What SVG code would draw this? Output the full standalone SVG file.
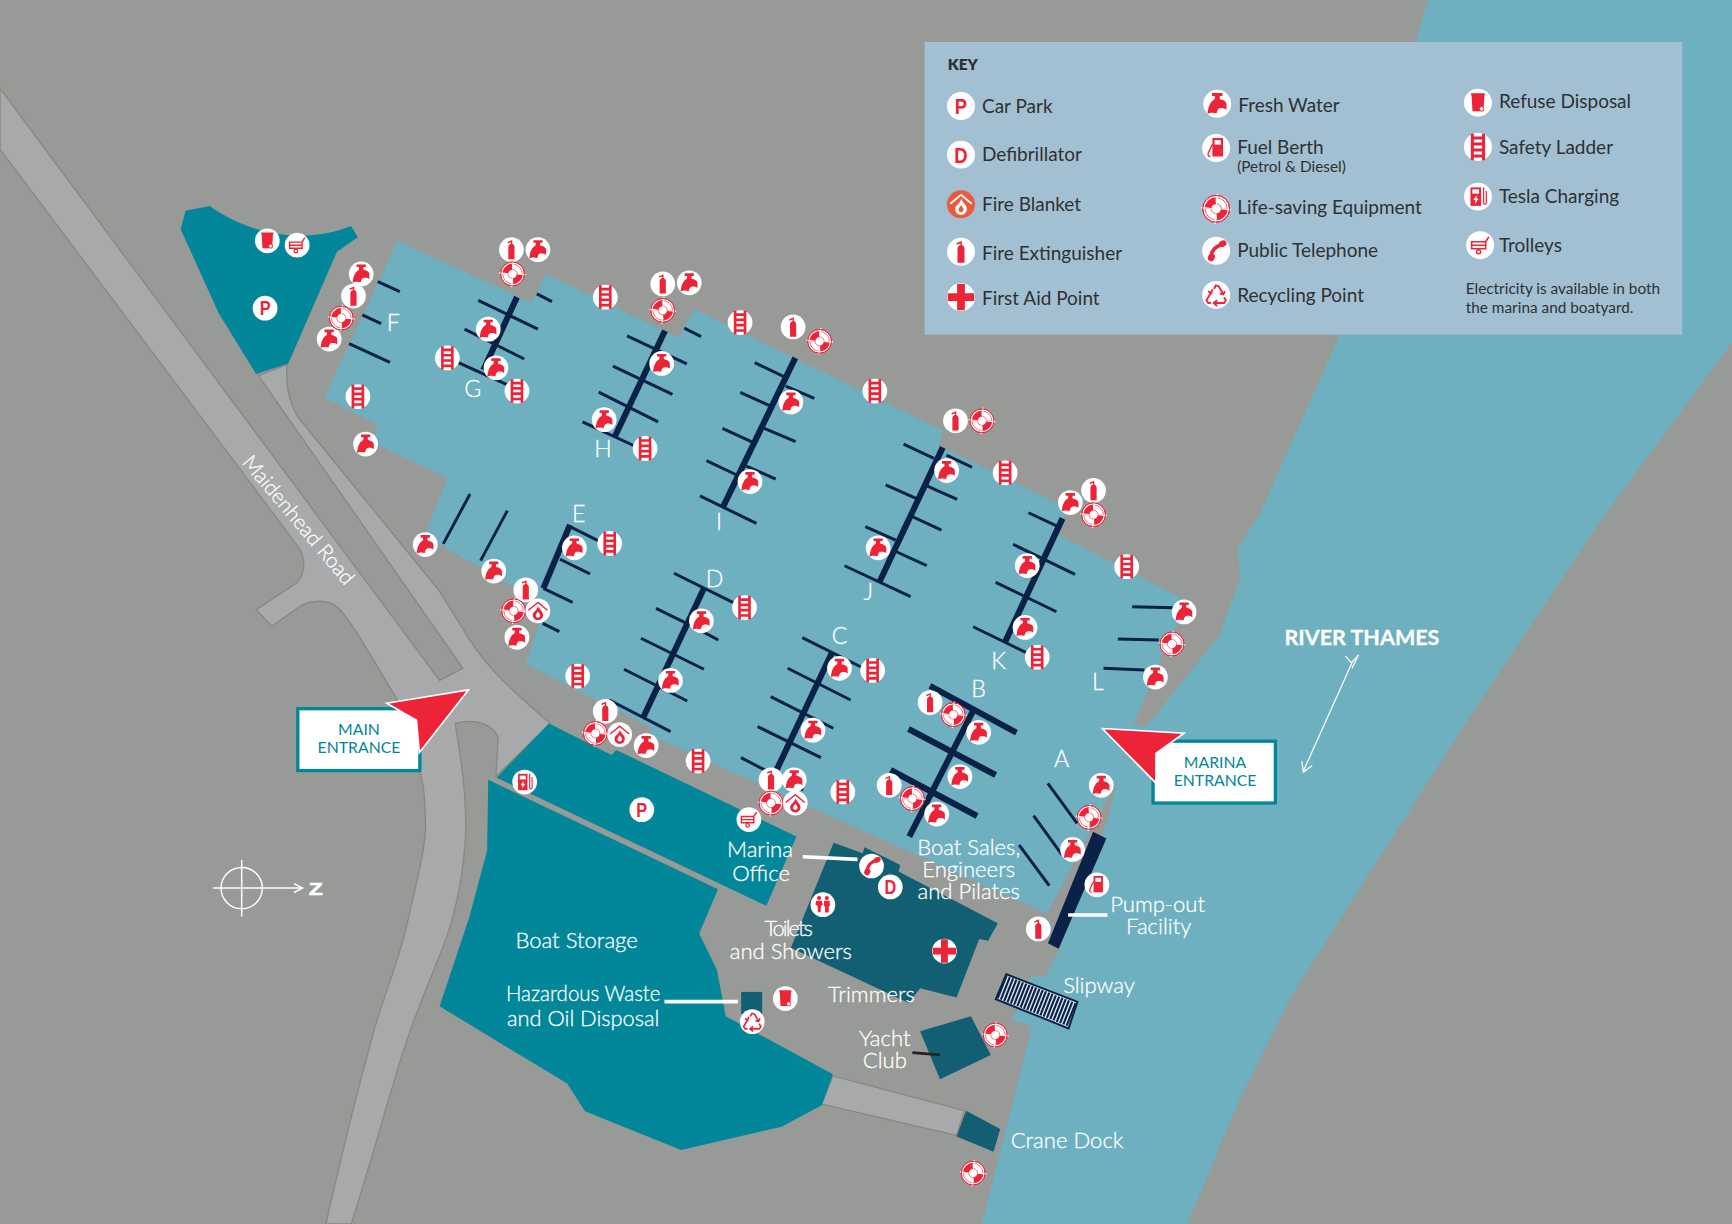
<svg xmlns="http://www.w3.org/2000/svg" width="1732" height="1224" viewBox="0 0 1732 1224">
<style>
.road{fill:#a7a9ab;stroke:#878980;stroke-width:1.2}
.navy{stroke:#0a2148;fill:none}
.p1{stroke-width:2.7}.p2{stroke-width:5.5}
.w{fill:#fff;stroke:#fff;stroke-width:.25;font-family:Lato,"Liberation Sans",sans-serif;font-weight:300;font-size:20px;text-anchor:middle}
.l{font-size:21px}
.k{fill:#2e3134;font-family:Lato,"Liberation Sans",sans-serif;font-size:17.2px;dominant-baseline:central}
.s{font-size:13.9px}
.e{fill:#02869a;font-family:Lato,"Liberation Sans",sans-serif;font-size:14.3px;text-anchor:middle}
.g{fill:#ed2437;font-family:"Liberation Sans",sans-serif;font-weight:bold;font-size:18px;text-anchor:middle}
.r{fill:#ed2437}
.ro{fill:none;stroke:#ed2437}
.b{fill:#fff}
</style>
<defs>
<circle id="bg" r="11.2" fill="#fff"/>
<g id="tap"><use href="#bg"/><path class="r" d="M-4.200-8.600H4.200V-6.200H2V-3.700C5-3.300 7.200-2 7.400 0V4.800C5.800 3.500 3.500 3.200 2 3.600 .5 4 0 5.200-.5 7.600-3 6.800-6 7-7.800 8-7.300 3.500-6.500-1.200-2-3.900V-6.200H-4.200Z"/></g>
<g id="ext"><use href="#bg"/><path class="r" d="M-2.800 8.800V-2.200c0-1.600 1-2.800 2.300-3.200V-6.700l-3 1V-7l4.200-1.700v3.300c1.300.4 2.100 1.600 2.100 3.200V8.800z"/></g>
<g id="ring"><circle r="10.800" fill="#fff" stroke="#ed2437" stroke-width=".8"/><circle r="6.500" class="ro" stroke-width="5.200" stroke-dasharray="9.600 10.820"/><circle r="8.900" class="ro" stroke-width=".6"/><circle r="4.100" class="ro" stroke-width=".6"/><circle r="6.500" fill="none" stroke="#fff" stroke-width="11" stroke-dasharray=".8 9.410"/><circle r="10.800" fill="none" stroke="#ed2437" stroke-width=".8"/></g>
<g id="ladder"><use href="#bg"/><path class="ro" stroke-width="2.400" d="M-4.500-10.600V10.600M4.500-10.600V10.600M-4.500-7.200H4.500M-4.500-2.400H4.500M-4.500 2.400H4.500M-4.500 7.200H4.500"/></g>
<g id="blanket"><use href="#bg"/><path class="ro" stroke-width="1.300" d="M-8.600-.5 0-7.600 8.600-.5"/><path class="r" d="M.2-4.400c.8 3 4.500 4.900 4.500 8.200 0 2.700-2.100 4.700-4.700 4.700S-4.700 6.500-4.700 3.800C-4.700 1-1 0 .2-4.400z"/><path class="b" d="M0 .5c.4 1.200 2 2 2 3.800 0 1.200-.9 2-2 2s-2-.8-2-2c0-1.700 1.600-2.400 2-3.800z"/></g>
<g id="trolley"><use href="#bg"/><path class="ro" stroke-width="1.300" d="M-6.800-2.800H4.400V2.800H-6.800zM-6.800 0H4.400M4.400-2.800 7-6.800M-1.200 2.800V4"/><circle cx="-1.200" cy="5.200" r="1.600" class="ro" stroke-width="1.200"/></g>
<g id="refuse"><use href="#bg"/><path class="r" d="M-5.500-7.600H5.500V-5.900H5.100L4.500 6.800H-4.400L-5.100-5.900H-5.500z"/><circle cx="3" cy="4.800" r="1.800" fill="#fff" stroke="#ed2437" stroke-width=".7"/></g>
<g id="fuel"><use href="#bg"/><path class="r" d="M-3-8H5.500V6.800H-3z"/><rect class="b" x="-1.300" y="-6.300" width="5.100" height="3.600"/><path class="ro" stroke-width="1.100" d="M-3-3-6.300 4c-.6 1.800.2 2.800 1.700 2.800"/></g>
<g id="tesla"><use href="#bg"/><path class="r" d="M-6-7.400H2.500V7.400H-6z"/><rect class="b" x="-4.500" y="-5.800" width="5.400" height="3.400"/><path class="b" d="M-1-1.200-3.700 2.800h1.800L-2.500 6 .6 1.600H-1.200z"/><path class="ro" stroke-width="1" d="M4.500-7.500V5c0 1.600 2.200 1.600 2.200 0V-4.500"/></g>
<g id="phone"><use href="#bg"/><path class="ro" stroke-width="3" d="M4.500-4.800C0-4-3.500-.5-4 4" stroke-linecap="round"/><ellipse class="r" cx="5.200" cy="-5.700" rx="3.200" ry="2.500" transform="rotate(-25 5.200 -5.700)"/><ellipse class="r" cx="-3.800" cy="5.300" rx="2.700" ry="3.200" transform="rotate(25 -3.800 5.300)"/></g>
<g id="recycle"><use href="#bg"/><path class="ro" stroke-width="1.500" d="M-1.800-4.800-.2-7.600 2-7l3.800 6.500M7-3 5.800-.4 3-1M6.300 1.800 7.800 4.500 6.400 6.500H-1M.8 4.200-2 6.500.8 8.800M-4.200 6.500H-6.400L-7.800 4.500-4.200-1.800M-6.500-3-4-1.500-3-4.500"/></g>
<g id="cross"><use href="#bg"/><path class="r" d="M-3.100-10.600h6.200v7.500h7.500v6.200H3.100v7.500h-6.200V3.100h-7.500v-6.200h7.500z"/></g>
<g id="toilets"><use href="#bg"/><circle class="r" cx="-3.500" cy="-6" r="1.900"/><circle class="r" cx="3.500" cy="-6" r="1.900"/><path class="r" d="M-6.200-3.600H-1l1 4-1.700.4-.4 6h-2.400l-.4-6-1.700-.4zM1-3.600h5.200v5H5.300V7H1.900V1.400H1z"/></g>
<g id="p"><use href="#bg"/><text class="g" transform="scale(.82 1)" y="6.500">P</text></g>
<g id="d"><use href="#bg"/><text class="g" transform="scale(.82 1)" y="6.500">D</text></g>
</defs>
<rect width="1732" height="1224" fill="#979a96"/>
<g transform="scale(1.10459)">
<g id="roads">
<path class="road" d="M0 80 398 616 419 605 234 340 260 330C258 350 262 365 270 378L397 534C410 555 418 567 425 579 445 610 470 630 498 655L449 703 451 667C445 655 430 650 412 655 420 700 423 740 421 765 418 800 410 835 400 860 390 885 375 920 364 955 350 1000 335 1055 318 1108H295C306 1060 320 1000 334 950 345 905 362 870 370 830 378 795 387 760 385 742 385 720 383 710 380 697L360 634 327 579C315 560 305 545 295 545 285 543 278 545 270 550L246 567 232 552 268 528C277 520 277 505 270 495L0 135z"/>
<path class="road" d="M754 974 873 1005.500 866 1028 744 999.500z"/>
</g>
<path id="water" fill="#6eb0bf" d="M1293 0 1284.700 27 1213 303 1140.700 464.400 1120.700 496 1122.700 523 1104 575 1057 633.700 1036.600 659 1026 655 1036 634 1051 594.500 1065 566 1070 541.600 958 484 966 460 850 403 854 390 628.500 280 614 305.600 494 248 481 274 360 218 293.700 359.600 341 384 339 401 405 433 384 484.700 464.700 531 495 545 476 601 590 659 588.500 665.500 948 827 1010.700 707.600 1002.600 742.500 959 860 946 884 934 882.700 916 923.400 934 929 889 1108H1075L1120 1000 1170 900 1240 790 1330 650 1450 470 1568 310V0z"/>
<g id="teal-areas" fill="#02869a">
<path d="M168 190.700 190 186.500C225 212 275 222 317.800 204.600L324 214.700 305 228 261 329 232 338.700 198 283.600 163.600 207.500z"/>
<path d="M449.600 704 497 655 553.700 683.500 558 679 721 757.400 693.800 820z"/>
<path d="M442 706 650 805 633 845 649 878 657 920 754 972.500 744 1000.500 707.500 1020 616.600 1041 529.600 1006 513.500 981 398 911 425 830 441 770z"/>
</g>
<g id="buildings" fill="#125f74">
<path d="M754.700 763 781 772.400 782.700 767 815 783 813.500 789 903.400 835.800 894.600 851.600 886.500 850 866 903 833 894.700 822.700 908 716 858z"/>
<rect x="671" y="898" width="19" height="20"/>
<path d="M833 933.500 879 920 897 955 851 977z"/>
<path d="M874.600 1005.500 905.500 1022 899.500 1042.600 866 1029z"/>
</g>
<g id="slipway">
<path d="M911 882 975.400 907 967.400 931 901.500 904.600z" fill="#d7e3e8" stroke="#0a2148" stroke-width="1.800"/>
<path d="M906.300 893.300 971.400 919" fill="none" stroke="#0a2148" stroke-width="22" stroke-dasharray="1.900 1.300"/>
</g>
<g id="piers">
<path class="navy p1" d="M342 255 362 264M328 285 345 293M316 311 353 328"/>
<path class="navy p2" d="M468 269 437.600 335"/>
<path class="navy p1" d="M433 272 487 298M420.600 298 474.600 325M413 327.400 460 348.600M486 266 499.700 273"/>
<path class="navy p2" d="M602 299.400 556.800 395"/>
<path class="navy p1" d="M567.700 304 621.800 329.500M554.900 331.400 608.800 357M542 355 595.800 382M527.400 382 575 404M619.500 297 634.700 304.800"/>
<path class="navy p2" d="M720 324 654.700 458.700"/>
<path class="navy p1" d="M683.200 328.300 709.700 341M670.200 355.200 696.700 367.300M654 387.800 682.200 400.800M639.500 417 667 430M711.300 349.500 737.200 360.600M691.900 387.800 720.300 399.900M675.700 421.900 702.200 433.700M633.700 449 684.800 473.800"/>
<path class="navy p2" d="M853.500 405 796.300 526.600"/>
<path class="navy p1" d="M818 402 845.500 415M801.800 439 829.300 451.200M783.400 476.800 810.900 489M856.800 412 880 423M839.600 440 866.500 452M826 467.800 852.300 479.900M811.500 499.500 839 512M764.600 512.200 824.400 540.200"/>
<path class="navy p2" d="M961.900 469.300 910 581"/>
<path class="navy p1" d="M931.100 464.200 958 476.800M917.200 492.800 973.200 520M901.400 527.200 956.400 553.800M881 567.400 929.500 591M1025 549.300 1062 550.200M1012 578.500 1049 579.500M999 605 1036 606.600"/>
<path class="navy p2" d="M516 475.200 491.900 532.600"/>
<path class="navy p1" d="M516 476.700 543.200 490.300M507 506.300 534.100 519.600M491.900 532.600 518.400 545.300M491.300 564.300 506.400 571.800M425.500 447.200 401.300 492.400M459.300 462.300 435.100 507.500"/>
<path class="navy p2" d="M637.300 532.600 582.400 649.400"/>
<path class="navy p1" d="M610.200 519 663.900 545.600M593.900 550.700 621.600 564.300M627.700 567.300 650.300 579.400M580.300 577.800 637.300 605.900M564.900 605.900 622.200 634.600M551.600 633.700 607.100 662.300"/>
<path class="navy p2" d="M752.900 591.400 703.100 697"/>
<path class="navy p1" d="M726.300 577.200 780 604.100M713.100 605 770.100 633.700M697.700 630.700 754.400 659.300M685.900 657.800 743.200 685.900M670.800 685.900 727.200 715.100"/>
<path class="navy p2" d="M881.300 642.800 823.200 757.500M841.900 621 920.200 663.300M822.500 660 901.400 701.600M806.300 697.100 884.600 738.700"/>
<path class="navy p1" d="M948.600 709.200 975.100 745.400M935.700 738.400 961.500 774M922.700 765 949.900 801.800"/>
<path d="M989.600 753 1001.600 759 958.400 859 948.700 854z" fill="#0a2148"/>
</g>
<g id="connectors">
<path fill="none" stroke="#fff" stroke-width="3.200" d="M967 828.400H1002.600M726.800 775.600 776.300 778M601.600 906.800H668"/>
<path fill="none" stroke="#222" stroke-width="2.500" d="M826 953 851 955"/>
</g>
<g id="icons">
<use href="#tap" x="327" y="248"/><use href="#tap" x="298" y="307"/><use href="#tap" x="331" y="402"/><use href="#tap" x="442" y="298"/><use href="#tap" x="449" y="333"/><use href="#tap" x="487" y="226"/><use href="#tap" x="624" y="256"/><use href="#tap" x="599" y="329"/><use href="#tap" x="547" y="380"/><use href="#tap" x="716" y="364"/><use href="#tap" x="679" y="436"/><use href="#tap" x="857" y="426"/><use href="#tap" x="795" y="496"/><use href="#tap" x="969" y="455"/><use href="#tap" x="930" y="512"/><use href="#tap" x="928" y="568"/><use href="#tap" x="1072" y="554"/><use href="#tap" x="1046" y="613"/><use href="#tap" x="385" y="493"/><use href="#tap" x="447" y="517"/><use href="#tap" x="520" y="496"/><use href="#tap" x="468" y="577"/><use href="#tap" x="635" y="562"/><use href="#tap" x="607" y="616"/><use href="#tap" x="585" y="675"/><use href="#tap" x="760" y="605"/><use href="#tap" x="736" y="661"/><use href="#tap" x="719" y="706"/><use href="#tap" x="886" y="663"/><use href="#tap" x="869" y="703"/><use href="#tap" x="848" y="737"/><use href="#tap" x="997" y="711"/><use href="#tap" x="971" y="769"/>
<use href="#ext" x="320" y="268"/><use href="#ext" x="463" y="226"/><use href="#ext" x="600" y="257"/><use href="#ext" x="718" y="296"/><use href="#ext" x="865" y="381"/><use href="#ext" x="990" y="444"/><use href="#ext" x="476" y="534"/><use href="#ext" x="548" y="644"/><use href="#ext" x="698" y="706"/><use href="#ext" x="842" y="636"/><use href="#ext" x="805" y="711"/><use href="#ext" x="940" y="841"/>
<use href="#ring" x="309" y="288"/><use href="#ring" x="464" y="248"/><use href="#ring" x="600" y="281"/><use href="#ring" x="742" y="309"/><use href="#ring" x="889" y="381"/><use href="#ring" x="990" y="466"/><use href="#ring" x="1061" y="583"/><use href="#ring" x="465" y="553"/><use href="#ring" x="539" y="664"/><use href="#ring" x="698" y="727"/><use href="#ring" x="863" y="647"/><use href="#ring" x="826" y="723"/><use href="#ring" x="986" y="740"/><use href="#ring" x="901" y="937"/><use href="#ring" x="881" y="1062"/>
<use href="#ladder" x="324" y="359"/><use href="#ladder" x="405" y="324"/><use href="#ladder" x="468" y="354"/><use href="#ladder" x="548" y="269"/><use href="#ladder" x="584" y="406"/><use href="#ladder" x="670" y="292"/><use href="#ladder" x="792" y="354"/><use href="#ladder" x="910" y="428"/><use href="#ladder" x="1020" y="513"/><use href="#ladder" x="939" y="595"/><use href="#ladder" x="552" y="492"/><use href="#ladder" x="674" y="550"/><use href="#ladder" x="523" y="612"/><use href="#ladder" x="632" y="689"/><use href="#ladder" x="790" y="607"/><use href="#ladder" x="763" y="717"/>
<use href="#blanket" x="487" y="553"/><use href="#blanket" x="561" y="665"/><use href="#blanket" x="720" y="727"/>
<use href="#trolley" x="269" y="222"/><use href="#trolley" x="678" y="742"/>
<use href="#refuse" x="242" y="218"/><use href="#refuse" x="711" y="904"/>
<use href="#p" x="240" y="279"/><use href="#p" x="581" y="733"/>
<use href="#tesla" x="475" y="708"/><use href="#fuel" x="993" y="801"/><use href="#phone" x="789" y="784"/><use href="#d" x="806" y="803"/><use href="#toilets" x="745" y="819"/><use href="#cross" x="855" y="861"/><use href="#recycle" x="681" y="925"/>
</g>
<g id="map-labels">
<text class="w l" x="356" y="300">F</text><text class="w l" x="428" y="359">G</text><text class="w l" x="546" y="414">H</text><text class="w l" x="651" y="480">I</text><text class="w l" x="786" y="543">J</text><text class="w l" x="904" y="606">K</text><text class="w l" x="994" y="625">L</text><text class="w l" x="961" y="694">A</text><text class="w l" x="886" y="631">B</text><text class="w l" x="760" y="583">C</text><text class="w l" x="647" y="531">D</text><text class="w l" x="524" y="473">E</text>
<text class="w" transform="translate(270 471) rotate(50)" y="6" style="font-size:18.800px">Maidenhead Road</text>
<text class="w" x="688" y="776">Marina</text><text class="w" x="689" y="798">Office</text>
<text class="w" x="877" y="774">Boat Sales,</text><text class="w" x="877" y="794">Engineers</text><text class="w" x="877" y="814">and Pilates</text>
<text class="w" x="1048" y="826">Pump-out</text><text class="w" x="1049" y="846">Facility</text>
<text class="w" x="714" y="847" textLength="44" lengthAdjust="spacing">Toilets</text><text class="w" x="716" y="868">and Showers</text>
<text class="w" x="789" y="907">Trimmers</text><text class="w" x="522" y="858">Boat Storage</text>
<text class="w" x="528" y="906" textLength="140" lengthAdjust="spacingAndGlyphs">Hazardous Waste</text><text class="w" x="528" y="929" textLength="138" lengthAdjust="spacingAndGlyphs">and Oil Disposal</text>
<text class="w" x="995" y="899">Slipway</text><text class="w" x="801" y="947">Yacht</text><text class="w" x="801" y="967">Club</text><text class="w" x="966" y="1039">Crane Dock</text>
</g>
<g id="main-entrance">
<rect x="269.600" y="641.600" width="110.500" height="56" fill="#fff" stroke="#02869a" stroke-width="3"/>
<text class="e" x="325" y="665">MAIN</text><text class="e" x="325" y="682">ENTRANCE</text>
<path d="M350 636.700 424 624.600 379.600 681.400 377 652z" fill="#ed2437" stroke="#fff" stroke-width="1.500"/>
</g>
<g id="marina-entrance">
<rect x="1043.900" y="671" width="110.700" height="56" fill="#fff" stroke="#02869a" stroke-width="3"/>
<text class="e" x="1100" y="695">MARINA</text><text class="e" x="1100" y="712">ENTRANCE</text>
<path d="M997.900 659.500 1071.900 663.800 1046.500 682V709z" fill="#ed2437" stroke="#fff" stroke-width="1.500"/>
</g>
<g id="river-label">
<text class="w" x="1233" y="584" style="font-weight:700;font-size:19.500px">RIVER THAMES</text>
<path fill="none" stroke="#fff" stroke-width="1.100" d="M1224 600 1180 698M1178.500 689 1180 699 1188 693M1218 594 1223.500 600 1230 593 1224 605"/>
</g>
<g id="north" fill="none" stroke="#fff" stroke-width="1.300">
<circle cx="218.800" cy="804" r="18.700"/>
<path d="M193 804H274M218.800 778.600V829.900M266 800 274 804 266 808"/>
<text transform="translate(286 810) scale(1.350 1)" fill="#fff" stroke="#fff" stroke-width=".5" font-family="Liberation Sans, sans-serif" font-weight="bold" font-size="15.500" text-anchor="middle">Z</text>
</g>
<g id="key">
<rect x="837" y="38" width="686" height="265" fill="#a3c0d2"/>
<text class="k" x="858" y="57.500" style="font-weight:800;font-size:14px">KEY</text>
<use href="#p" transform="translate(870 96) scale(1.130)"/><text class="k" x="889" y="95.300">Car Park</text>
<use href="#d" transform="translate(870 140) scale(1.130)"/><text class="k" x="889" y="139.300">Defibrillator</text>
<g transform="translate(870 185) scale(1.130)"><circle r="11.200" fill="#ea5a3c"/><path fill="none" stroke="#fff" stroke-width="1.500" d="M-8.600-.5 0-7.600 8.600-.5"/><path class="b" d="M.2-4.400c.8 3 4.500 4.900 4.500 8.200 0 2.700-2.100 4.700-4.700 4.700S-4.700 6.500-4.700 3.800C-4.700 1-1 0 .2-4.400z"/><path fill="#ea5a3c" d="M0 .5c.4 1.200 2 2 2 3.800 0 1.200-.9 2-2 2s-2-.8-2-2c0-1.700 1.600-2.400 2-3.800z"/></g><text class="k" x="889" y="184.300">Fire Blanket</text>
<use href="#ext" transform="translate(870 228) scale(1.130)"/><text class="k" x="889" y="228.300">Fire Extinguisher</text>
<use href="#cross" transform="translate(870 269) scale(1.130)"/><text class="k" x="889" y="269.300">First Aid Point</text>
<use href="#tap" transform="translate(1102 94) scale(1.130)"/><text class="k" x="1121" y="94.300">Fresh Water</text>
<use href="#fuel" transform="translate(1101 134) scale(1.130)"/><text class="k" x="1120" y="132.300">Fuel Berth</text><text class="k s" x="1120" y="150.500">(Petrol &amp; Diesel)</text>
<use href="#ring" transform="translate(1101 189) scale(1.130)"/><text class="k" x="1120" y="187.300">Life-saving Equipment</text>
<use href="#phone" transform="translate(1101 227) scale(1.130)"/><text class="k" x="1120" y="226.300">Public Telephone</text>
<use href="#recycle" transform="translate(1101 267) scale(1.130)"/><text class="k" x="1120" y="266.300">Recycling Point</text>
<use href="#refuse" transform="translate(1338 93) scale(1.130)"/><text class="k" x="1357" y="91.300">Refuse Disposal</text>
<use href="#ladder" transform="translate(1338 133) scale(1.130)"/><text class="k" x="1357" y="132.300">Safety Ladder</text>
<use href="#tesla" transform="translate(1338 178) scale(1.130)"/><text class="k" x="1357" y="177.300">Tesla Charging</text>
<use href="#trolley" transform="translate(1340 222) scale(1.130)"/><text class="k" x="1357" y="221.300">Trolleys</text>
<text class="k s" x="1327" y="260.500">Electricity is available in both</text><text class="k s" x="1327" y="277.500">the marina and boatyard.</text>
</g>
</g>
</svg>
